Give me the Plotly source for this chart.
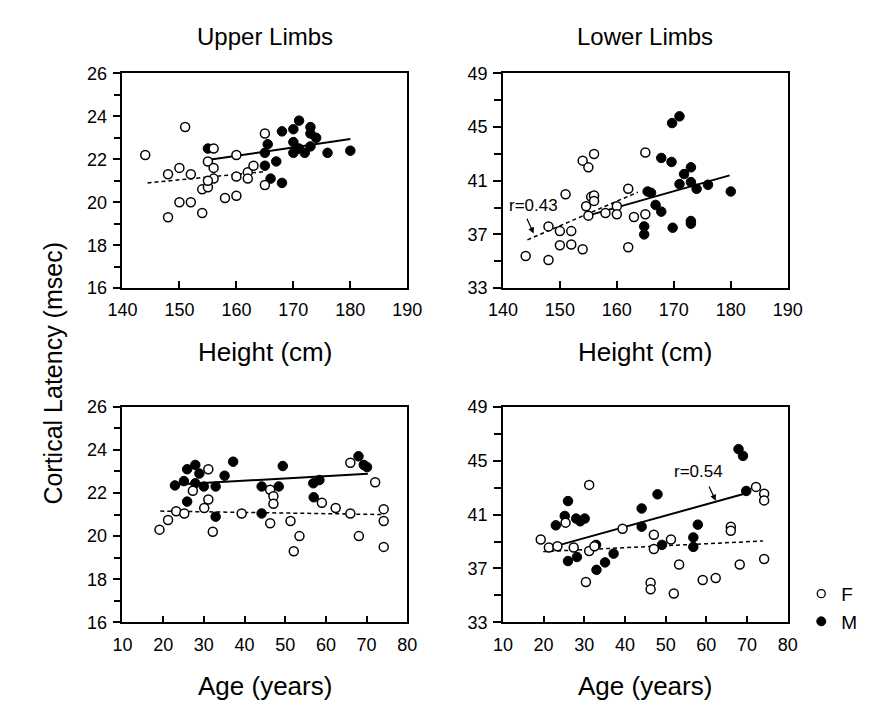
import plotly.graph_objects as go

# ---------------- data ----------------
# Upper limbs vs height
ul_h_F_x = [144, 151, 148, 150, 152, 150, 152, 148, 154, 154, 155, 155, 156, 156, 156, 155, 158, 160, 160, 160, 162, 162, 163, 165, 165]
ul_h_F_y = [22.2, 23.5, 21.3, 21.6, 21.3, 20.0, 20.0, 19.3, 19.5, 20.6, 20.7, 21.9, 22.5, 21.6, 21.1, 21.0, 20.2, 22.2, 21.2, 20.3, 21.4, 21.1, 21.7, 23.2, 20.8]
ul_h_M_x = [155, 165, 165, 165.5, 166, 167, 168, 168, 170, 170, 170, 171, 171, 172, 173, 173, 173, 174, 176, 180]
ul_h_M_y = [22.5, 21.7, 22.3, 22.7, 21.1, 21.9, 20.9, 23.3, 23.4, 22.8, 22.3, 23.8, 22.5, 22.3, 23.5, 23.2, 22.6, 23.0, 22.3, 22.4]
ul_h_fitM_x = [154.6, 180]
ul_h_fitM_y = [21.95, 22.94]
ul_h_fitF_x = [144.4, 164.8]
ul_h_fitF_y = [20.9, 21.42]

# Lower limbs vs height
ll_h_F_x = [144, 148, 148, 150, 152, 150, 152, 154, 151, 154, 155, 156, 154.6, 155.5, 156, 156, 155, 158, 160, 160, 162, 162, 163, 165, 165]
ll_h_F_y = [35.4, 35.1, 37.6, 37.25, 37.25, 36.2, 36.25, 35.9, 40.0, 42.5, 42.0, 43.0, 39.1, 39.8, 39.9, 39.5, 38.4, 38.6, 39.1, 38.5, 40.4, 36.05, 38.3, 43.1, 38.5]
ll_h_M_x = [164.8, 164.8, 165.4, 166, 166.8, 167.8, 167.8, 169.6, 169.8, 169.7, 171, 171, 171.8, 173, 173, 173, 173, 174, 176, 180]
ll_h_M_y = [37.6, 37.0, 40.2, 40.1, 39.2, 38.7, 42.7, 42.4, 37.5, 45.3, 45.8, 40.75, 41.5, 42.0, 40.9, 38.0, 37.8, 40.4, 40.7, 40.2]
ll_h_fitM_x = [154.9, 179.8]
ll_h_fitM_y = [38.4, 41.4]
ll_h_fitF_x = [144.3, 163.7]
ll_h_fitF_y = [36.6, 40.15]

# Upper limbs vs age
ul_a_F_x = [19.1, 21.2, 23.2, 25.2, 27.3, 30.1, 31.1, 31.1, 32.2, 39.3, 46.3, 47.1, 47.1, 46.3, 51.3, 52.1, 53.5, 59, 62.4, 66, 66, 68.1, 72.1, 74.2, 74.2, 74.2]
ul_a_F_y = [20.3, 20.75, 21.15, 21.05, 22.1, 21.3, 21.7, 23.1, 20.2, 21.05, 22.15, 21.85, 21.5, 20.6, 20.7, 19.3, 20.0, 21.55, 21.3, 21.05, 23.4, 20.0, 22.5, 21.25, 20.7, 19.5]
ul_a_M_x = [22.9, 25.1, 25.9, 25.9, 27.9, 28.9, 27.9, 30, 32.9, 32.9, 35.1, 37.2, 44.2, 44.2, 48.4, 49.4, 56.9, 58.4, 57, 68, 69.3, 70.1]
ul_a_M_y = [22.35, 22.55, 23.1, 21.6, 23.3, 22.9, 22.45, 22.3, 22.3, 20.9, 22.8, 23.45, 22.3, 21.05, 22.3, 23.25, 22.45, 22.6, 21.8, 23.7, 23.3, 23.2]
ul_a_fitM_x = [23.3, 70.3]
ul_a_fitM_y = [22.39, 22.89]
ul_a_fitF_x = [19.3, 74.1]
ul_a_fitF_y = [21.16, 21.0]

# Lower limbs vs age
ll_a_F_x = [19.3, 21.3, 23.4, 25.4, 27.4, 31.2, 30.4, 31.2, 32.5, 39.4, 47.1, 47.1, 46.3, 46.3, 51.3, 53.3, 52, 59.1, 62.3, 66, 66, 68.2, 72.2, 74.2, 74.2, 74.2]
ll_a_F_y = [39.15, 38.55, 38.65, 40.4, 38.55, 43.2, 36.0, 38.3, 38.65, 39.95, 39.5, 38.45, 35.95, 35.45, 39.15, 37.3, 35.15, 36.15, 36.3, 40.1, 39.8, 37.3, 43.05, 42.55, 42.05, 37.7]
ll_a_M_x = [23, 25.2, 26, 26, 28, 29, 30.1, 28.2, 32.9, 33, 35.1, 37.2, 44.1, 44.1, 49.1, 48, 57.9, 56.8, 56.8, 67.9, 69, 69.8]
ll_a_M_y = [40.2, 40.9, 42.0, 37.55, 40.7, 40.5, 40.7, 37.85, 38.75, 36.9, 37.45, 38.1, 41.45, 40.1, 38.75, 42.5, 40.25, 39.3, 38.6, 45.85, 45.35, 42.75]
ll_a_fitM_x = [23.8, 69.8]
ll_a_fitM_y = [38.73, 42.58]
ll_a_fitF_x = [19.9, 73.9]
ll_a_fitF_y = [38.25, 39.04]

panel_titles = ["Upper Limbs", "Lower Limbs"]
x_titles = ["Height (cm)", "Age (years)"]
y_title = "Cortical Latency (msec)"
legend_names = ["F", "M"]
r_labels = ["r=0.43", "r=0.54"]

# ---------------- figure ----------------
W, H = 872, 707
FONT = "Liberation Sans, Arial, Helvetica, sans-serif"

def px_x(p):
    return p / W

def px_y(p):
    return 1 - p / H

fig = go.Figure()

panels = [
    ("", ul_h_F_x, ul_h_F_y, ul_h_M_x, ul_h_M_y, ul_h_fitF_x, ul_h_fitF_y, ul_h_fitM_x, ul_h_fitM_y),
    ("2", ll_h_F_x, ll_h_F_y, ll_h_M_x, ll_h_M_y, ll_h_fitF_x, ll_h_fitF_y, ll_h_fitM_x, ll_h_fitM_y),
    ("3", ul_a_F_x, ul_a_F_y, ul_a_M_x, ul_a_M_y, ul_a_fitF_x, ul_a_fitF_y, ul_a_fitM_x, ul_a_fitM_y),
    ("4", ll_a_F_x, ll_a_F_y, ll_a_M_x, ll_a_M_y, ll_a_fitF_x, ll_a_fitF_y, ll_a_fitM_x, ll_a_fitM_y),
]

for sid, fx, fy, mx, my, ffx, ffy, fmx, fmy in panels:
    xa, ya = "x" + sid, "y" + sid
    fig.add_trace(go.Scatter(x=ffx, y=ffy, mode="lines", xaxis=xa, yaxis=ya, showlegend=False,
                             line=dict(color="black", width=1.5, dash="4px,3px"), hoverinfo="skip"))
    fig.add_trace(go.Scatter(x=fmx, y=fmy, mode="lines", xaxis=xa, yaxis=ya, showlegend=False,
                             line=dict(color="black", width=2), hoverinfo="skip"))
    fig.add_trace(go.Scatter(x=mx, y=my, mode="markers", xaxis=xa, yaxis=ya, showlegend=False,
                             marker=dict(symbol="circle", size=9.5, color="black",
                                         line=dict(color="black", width=1))))
    fig.add_trace(go.Scatter(x=fx, y=fy, mode="markers", xaxis=xa, yaxis=ya, showlegend=False,
                             marker=dict(symbol="circle", size=9, color="white",
                                         line=dict(color="black", width=1.5))))

# legend entries
fig.add_trace(go.Scatter(x=[None], y=[None], mode="markers", name=legend_names[0],
                         marker=dict(symbol="circle", size=8, color="white", line=dict(color="black", width=1.3))))
fig.add_trace(go.Scatter(x=[None], y=[None], mode="markers", name=legend_names[1],
                         marker=dict(symbol="circle", size=9, color="black", line=dict(color="black", width=1))))

xdom_L = [px_x(103), px_x(398)]
xdom_R = [px_x(497), px_x(792)]
ydom_T = [px_y(278), px_y(57)]
ydom_B = [px_y(622), px_y(400)]

tickfont = dict(family=FONT, size=18, color="black")

def xaxis_cfg(dom, anchor, rng, dtick):
    return dict(domain=dom, anchor=anchor, range=rng, dtick=dtick, tick0=rng[0],
                showline=True, linecolor="black", linewidth=1.5, mirror=True,
                ticks="inside", ticklen=7, tickwidth=1.5, tickcolor="black",
                showgrid=False, zeroline=False, tickfont=tickfont, ticklabelstandoff=5)

def yaxis_cfg(dom, anchor, rng, dtick, mdtick):
    return dict(domain=dom, anchor=anchor, range=rng, dtick=dtick, tick0=rng[0],
                showline=True, linecolor="black", linewidth=1.5, mirror=True,
                ticks="outside", ticklen=8, tickwidth=1.5, tickcolor="black",
                minor=dict(dtick=mdtick, tick0=rng[0], ticks="outside", ticklen=7,
                           tickwidth=1.5, tickcolor="black", showgrid=False),
                showgrid=False, zeroline=False, tickfont=tickfont, ticklabelstandoff=2)

fig.update_layout(
    width=W, height=H,
    margin=dict(l=0, r=0, t=0, b=0),
    paper_bgcolor="white", plot_bgcolor="white",
    font=dict(family=FONT, color="black"),
    xaxis=xaxis_cfg(xdom_L, "y", [140, 190], 10),
    yaxis=yaxis_cfg(ydom_T, "x", [16, 26], 2, 1),
    xaxis2=xaxis_cfg(xdom_R, "y2", [140, 190], 10),
    yaxis2=yaxis_cfg(ydom_T, "x2", [33, 49], 4, 2),
    xaxis3=xaxis_cfg(xdom_L, "y3", [10, 80], 10),
    yaxis3=yaxis_cfg(ydom_B, "x3", [16, 26], 2, 1),
    xaxis4=xaxis_cfg(xdom_R, "y4", [10, 80], 10),
    yaxis4=yaxis_cfg(ydom_B, "x4", [33, 49], 4, 2),
    legend=dict(x=px_x(806), y=px_y(573), xanchor="left", yanchor="top",
                font=dict(family=FONT, size=19, color="black"),
                bgcolor="rgba(0,0,0,0)", borderwidth=0, tracegroupgap=0),
)

ann = []
title_font = dict(family=FONT, size=24, color="black")
axis_font = dict(family=FONT, size=26, color="black")
ann.append(dict(text=panel_titles[0], x=px_x(250.5), y=px_y(19), xref="paper", yref="paper",
                showarrow=False, font=title_font, xanchor="center", yanchor="middle"))
ann.append(dict(text=panel_titles[1], x=px_x(644.5), y=px_y(19), xref="paper", yref="paper",
                showarrow=False, font=title_font, xanchor="center", yanchor="middle"))
for xc in (250.5, 644.5):
    ann.append(dict(text=x_titles[0], x=px_x(xc), y=px_y(344), xref="paper", yref="paper",
                    showarrow=False, font=axis_font, xanchor="center", yanchor="middle"))
    ann.append(dict(text=x_titles[1], x=px_x(xc), y=px_y(687), xref="paper", yref="paper",
                    showarrow=False, font=axis_font, xanchor="center", yanchor="middle"))
ann.append(dict(text=y_title, x=px_x(31), y=px_y(365), xref="paper", yref="paper", textangle=-90,
                showarrow=False, font=dict(family=FONT, size=25, color="black"),
                xanchor="center", yanchor="middle"))

rfont = dict(family=FONT, size=17, color="black")
# r=0.43 (lower limbs vs height)
ann.append(dict(text=r_labels[0], x=145.3, y=39.12, xref="x2", yref="y2", showarrow=False, font=rfont))
ann.append(dict(text="", x=145.4, y=37.08, ax=144.1, ay=38.28, xref="x2", yref="y2", axref="x2", ayref="y2",
                showarrow=True, arrowhead=2, arrowsize=1, arrowwidth=1.2, arrowcolor="black"))
# r=0.54 (lower limbs vs age)
ann.append(dict(text=r_labels[1], x=58.0, y=44.19, xref="x4", yref="y4", showarrow=False, font=rfont))
ann.append(dict(text="", x=62.3, y=42.02, ax=60.5, ay=43.2, xref="x4", yref="y4", axref="x4", ayref="y4",
                showarrow=True, arrowhead=2, arrowsize=1, arrowwidth=1.2, arrowcolor="black"))

fig.update_layout(annotations=ann)
fig.write_html("out.html")
